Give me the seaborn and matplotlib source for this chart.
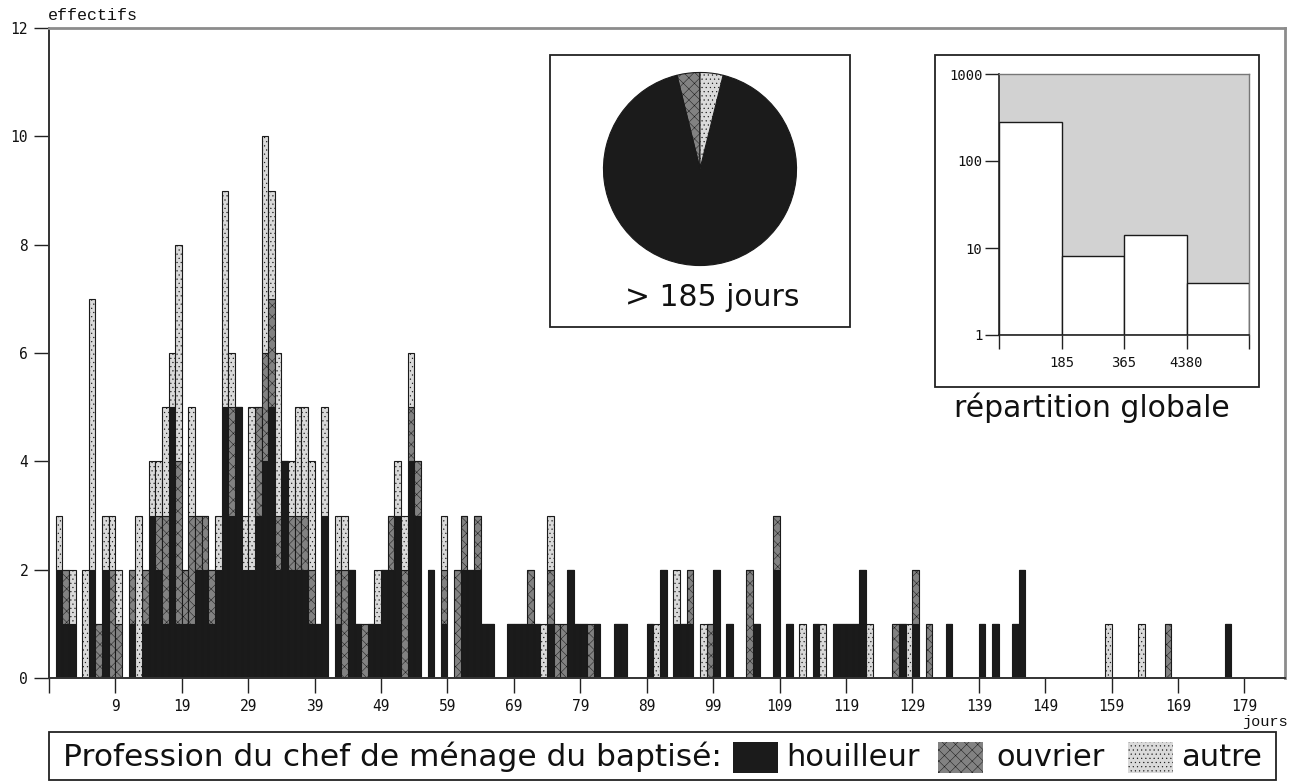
import numpy as np
import pandas as pd
import matplotlib
matplotlib.use("Agg")
import matplotlib.pyplot as plt
from matplotlib.patches import Rectangle
import seaborn as sns

# ---------------------------------------------------------------- data
categories = ["houilleur", "ouvrier", "autre"]

# baptisms per delay (index = number of days, 0 ... 185)
houilleur = [
    2, 1, 1, 0, 0, 2, 0, 2, 0, 0,   # 0-9
    0, 1, 0, 1, 3, 2, 1, 5, 1, 1,   # 10-19
    1, 2, 2, 1, 2, 5, 3, 5, 2, 2,   # 20-29
    3, 4, 5, 2, 4, 2, 2, 2, 1, 1,   # 30-39
    3, 0, 1, 0, 2, 1, 0, 1, 1, 2,   # 40-49
    2, 3, 0, 4, 3, 0, 2, 0, 1, 0,   # 50-59
    0, 2, 2, 2, 1, 1, 0, 0, 1, 1,   # 60-69
    1, 1, 1, 0, 1, 0, 0, 2, 1, 1,   # 70-79
    0, 1, 0, 0, 1, 1, 0, 0, 0, 1,   # 80-89
    0, 2, 0, 1, 1, 1, 0, 0, 0, 2,   # 90-99
    0, 1, 0, 0, 0, 1, 0, 0, 2, 0,   # 100-109
    1, 0, 0, 0, 1, 0, 0, 1, 1, 1,   # 110-119
    1, 2, 0, 0, 0, 0, 0, 1, 0, 1,   # 120-129
    0, 0, 0, 0, 1, 0, 0, 0, 0, 1,   # 130-139
    0, 1, 0, 0, 1, 2, 0, 0, 0, 0,   # 140-149
    0, 0, 0, 0, 0, 0, 0, 0, 0, 0,   # 150-159
    0, 0, 0, 0, 0, 0, 0, 0, 0, 0,   # 160-169
    0, 0, 0, 0, 0, 0, 1, 0, 0, 0,   # 170-179
    0, 0, 0, 0, 0, 0,               # 180-185
]
ouvrier = [
    0, 1, 0, 0, 0, 0, 1, 0, 2, 1,   # 0-9
    0, 1, 0, 1, 0, 1, 2, 0, 3, 1,   # 10-19
    2, 1, 1, 1, 0, 0, 2, 0, 0, 0,   # 20-29
    2, 2, 2, 1, 0, 1, 1, 1, 1, 0,   # 30-39
    0, 0, 1, 2, 0, 0, 1, 0, 0, 0,   # 40-49
    1, 0, 2, 1, 1, 0, 0, 0, 1, 0,   # 50-59
    2, 1, 0, 1, 0, 0, 0, 0, 0, 0,   # 60-69
    0, 1, 0, 0, 1, 1, 1, 0, 0, 0,   # 70-79
    1, 0, 0, 0, 0, 0, 0, 0, 0, 0,   # 80-89
    0, 0, 0, 0, 0, 1, 0, 0, 1, 0,   # 90-99
    0, 0, 0, 0, 2, 0, 0, 0, 1, 0,   # 100-109
    0, 0, 0, 0, 0, 0, 0, 0, 0, 0,   # 110-119
    0, 0, 0, 0, 0, 0, 1, 0, 0, 1,   # 120-129
    0, 1, 0, 0, 0, 0, 0, 0, 0, 0,   # 130-139
    0, 0, 0, 0, 0, 0, 0, 0, 0, 0,   # 140-149
    0, 0, 0, 0, 0, 0, 0, 0, 0, 0,   # 150-159
    0, 0, 0, 0, 0, 0, 0, 1, 0, 0,   # 160-169
    0, 0, 0, 0, 0, 0, 0, 0, 0, 0,   # 170-179
    0, 0, 0, 0, 0, 0,               # 180-185
]
autre = [
    1, 0, 1, 0, 2, 5, 0, 1, 1, 1,   # 0-9
    0, 0, 3, 0, 1, 1, 2, 1, 4, 0,   # 10-19
    2, 0, 0, 0, 1, 4, 1, 0, 1, 3,   # 20-29
    0, 4, 2, 3, 0, 1, 2, 2, 2, 0,   # 30-39
    2, 0, 1, 1, 0, 0, 0, 0, 1, 0,   # 40-49
    0, 1, 1, 1, 0, 0, 0, 0, 1, 0,   # 50-59
    0, 0, 0, 0, 0, 0, 0, 0, 0, 0,   # 60-69
    0, 0, 0, 1, 1, 0, 0, 0, 0, 0,   # 70-79
    0, 0, 0, 0, 0, 0, 0, 0, 0, 0,   # 80-89
    1, 0, 0, 1, 0, 0, 0, 1, 0, 0,   # 90-99
    0, 0, 0, 0, 0, 0, 0, 0, 0, 0,   # 100-109
    0, 0, 1, 0, 0, 1, 0, 0, 0, 0,   # 110-119
    0, 0, 1, 0, 0, 0, 0, 0, 1, 0,   # 120-129
    0, 0, 0, 0, 0, 0, 0, 0, 0, 0,   # 130-139
    0, 0, 0, 0, 0, 0, 0, 0, 0, 0,   # 140-149
    0, 0, 0, 0, 0, 0, 0, 0, 1, 0,   # 150-159
    0, 0, 0, 1, 0, 0, 0, 0, 0, 0,   # 160-169
    0, 0, 0, 0, 0, 0, 0, 0, 0, 0,   # 170-179
    0, 0, 0, 0, 0, 0,               # 180-185
]
day_ticks = list(range(-1, 180, 10))
day_labels = [""] + [str(d) for d in range(9, 180, 10)]
count_ticks = list(range(0, 13, 2))

# delays longer than 185 days, by profession (houilleur, ouvrier, autre)
long_delay_counts = [24, 1, 1]

# overall distribution of delays (log scale inset)
global_bin_edges = ["185", "365", "4380"]
global_counts = [282, 8, 14, 4]

# ---------------------------------------------------------------- style
sns.set_theme(style="white")
plt.rcParams["font.family"] = ["DejaVu Sans"]
plt.rcParams["hatch.linewidth"] = 0.35

palette = {"houilleur": "#1b1b1b", "ouvrier": "#828282", "autre": "#dadada"}
hatches = {"houilleur": None, "ouvrier": "xxx", "autre": "...."}
MONO = "DejaVu Sans Mono"
COURIER = "Liberation Mono"
TXT = 21.5

W, H = 1289, 782
fig = plt.figure(figsize=(W / 100, H / 100), dpi=100)
fig.patch.set_facecolor("white")


def fx(px):
    return px / W


def fy(py):
    return 1 - py / H


def frame(x0, y0, x1, y1, lw=1.3):
    fig.patches.append(Rectangle((fx(x0), fy(y1)), fx(x1) - fx(x0), fy(y0) - fy(y1),
                                 transform=fig.transFigure, fill=False,
                                 edgecolor="#222222", linewidth=lw, zorder=5))


# ---------------------------------------------------------------- main histogram
ax = fig.add_axes([fx(49), fy(678), fx(1285) - fx(49), fy(28) - fy(678)])

rows = []
for prof, counts in zip(categories, [houilleur, ouvrier, autre]):
    for day, n in enumerate(counts):
        if n:
            rows.append((day, prof, n))
df = pd.DataFrame(rows, columns=["jour", "profession", "effectif"])

sns.histplot(
    data=df, x="jour", weights="effectif", hue="profession",
    hue_order=["autre", "ouvrier", "houilleur"], multiple="stack",
    binwidth=1, binrange=(0, len(houilleur)), palette=palette, alpha=1,
    edgecolor="#1a1a1a", linewidth=0.8, legend=False, ax=ax,
)

# texture the grey categories
rgb_to_prof = {tuple(np.round(matplotlib.colors.to_rgb(c), 3)): p for p, c in palette.items()}
for patch in ax.patches:
    key = tuple(np.round(patch.get_facecolor()[:3], 3))
    prof = rgb_to_prof.get(key)
    if prof and hatches[prof]:
        patch.set_hatch(hatches[prof])

ax.set_xlim(-1, 185.1)
ax.set_ylim(0, 12)
ax.set_xticks(day_ticks)
ax.set_xticklabels(day_labels, fontfamily=MONO, fontsize=10.5)
ax.set_yticks(count_ticks)
ax.set_yticklabels([str(c) for c in count_ticks], fontfamily=MONO, fontsize=10.5)
ax.set_xlabel("")
ax.set_ylabel("")
ax.tick_params(axis="both", which="major", direction="out", length=11, width=1,
               color="#222222", labelcolor="#111111", bottom=True, left=True, pad=4)
for side in ["left", "bottom"]:
    ax.spines[side].set_color("#333333")
    ax.spines[side].set_linewidth(1.4)
for side in ["top", "right"]:
    ax.spines[side].set_color("#8c8c8c")
    ax.spines[side].set_linewidth(2.0)

fig.text(fx(48), fy(15), "effectifs", fontfamily=COURIER, fontsize=12,
         ha="left", va="center", color="#111111")
fig.text(fx(1288), fy(722), "jours", fontfamily=COURIER, fontsize=11,
         ha="right", va="center", color="#111111")

# ---------------------------------------------------------------- pie inset
frame(550, 55, 850, 327)
pie_d = 195
ax_pie = fig.add_axes([fx(700 - pie_d / 2), fy(169 + pie_d / 2), pie_d / W, pie_d / H])
pie_order = ["ouvrier", "houilleur", "autre"]
pie_vals = [long_delay_counts[categories.index(p)] for p in pie_order]
wedges, _ = ax_pie.pie(pie_vals, colors=[palette[p] for p in pie_order], startangle=90,
                       counterclock=True, radius=1,
                       wedgeprops=dict(edgecolor="#1a1a1a", linewidth=0.8))
for w, p in zip(wedges, pie_order):
    if hatches[p]:
        w.set_hatch(hatches[p])
ax_pie.set_xlim(-1.01, 1.01)
ax_pie.set_ylim(-1.01, 1.01)
ax_pie.set_axis_off()
fig.text(fx(712), fy(298), "> 185 jours", fontsize=TXT, ha="center", va="center",
         color="#111111")

# ---------------------------------------------------------------- global distribution inset
frame(935, 55, 1259, 387)
ax_g = fig.add_axes([fx(999), fy(335), fx(1249) - fx(999), fy(74) - fy(335)])
ax_g.set_facecolor("#d2d2d2")
gdf = pd.DataFrame({"classe": np.arange(len(global_counts)), "n": global_counts})
sns.barplot(data=gdf, x="classe", y="n", width=1.0, color="white",
            edgecolor="#1a1a1a", linewidth=1.0, saturation=1, ax=ax_g)
ax_g.set_yscale("log")
# bars rise from the axis floor (1) on the log scale
for bar in ax_g.patches:
    h = bar.get_height()
    bar.set_y(1)
    bar.set_height(h - 1)
ax_g.set_ylim(1, 1000)
ax_g.set_xlim(-0.5, len(global_counts) - 0.5)
ax_g.set_yticks([1, 10, 100, 1000])
ax_g.set_yticklabels(["1", "10", "100", "1000"], fontfamily=MONO, fontsize=10)
ax_g.yaxis.set_minor_locator(matplotlib.ticker.NullLocator())
ax_g.set_xticks(np.arange(len(global_counts) + 1) - 0.5)
ax_g.set_xticklabels([""] + global_bin_edges + [""], fontfamily=MONO, fontsize=10)
ax_g.set_xlabel("")
ax_g.set_ylabel("")
ax_g.tick_params(axis="both", direction="out", length=10, width=1, color="#222222",
                 bottom=True, left=True, labelcolor="#111111", pad=5)
ax_g.tick_params(axis="y", pad=2)
for side in ["left", "bottom"]:
    ax_g.spines[side].set_color("#222222")
    ax_g.spines[side].set_linewidth(1.2)
for side in ["top", "right"]:
    ax_g.spines[side].set_color("#777777")
    ax_g.spines[side].set_linewidth(1.0)
fig.text(fx(1092), fy(408), "répartition globale", fontsize=TXT, ha="center",
         va="center", color="#111111")

# ---------------------------------------------------------------- legend strip
frame(49, 732, 1276, 780)
leg_y = 757
fig.text(fx(63), fy(leg_y), "Profession du chef de ménage du baptisé:",
         fontsize=22.5, ha="left", va="center", color="#111111")
swatch_x = [733, 938, 1128]
label_x = [786, 996, 1181]
sw, sh = 45, 31
for prof, px, lx in zip(categories, swatch_x, label_x):
    fig.patches.append(Rectangle((fx(px), fy(leg_y + sh / 2)), sw / W, sh / H,
                                 transform=fig.transFigure, facecolor=palette[prof],
                                 edgecolor="#1a1a1a", linewidth=0,
                                 hatch=hatches[prof], zorder=6))
    fig.text(fx(lx), fy(leg_y), prof, fontsize=22, ha="left", va="center",
             color="#111111")

fig.savefig("out.png", dpi=100, facecolor="white")
